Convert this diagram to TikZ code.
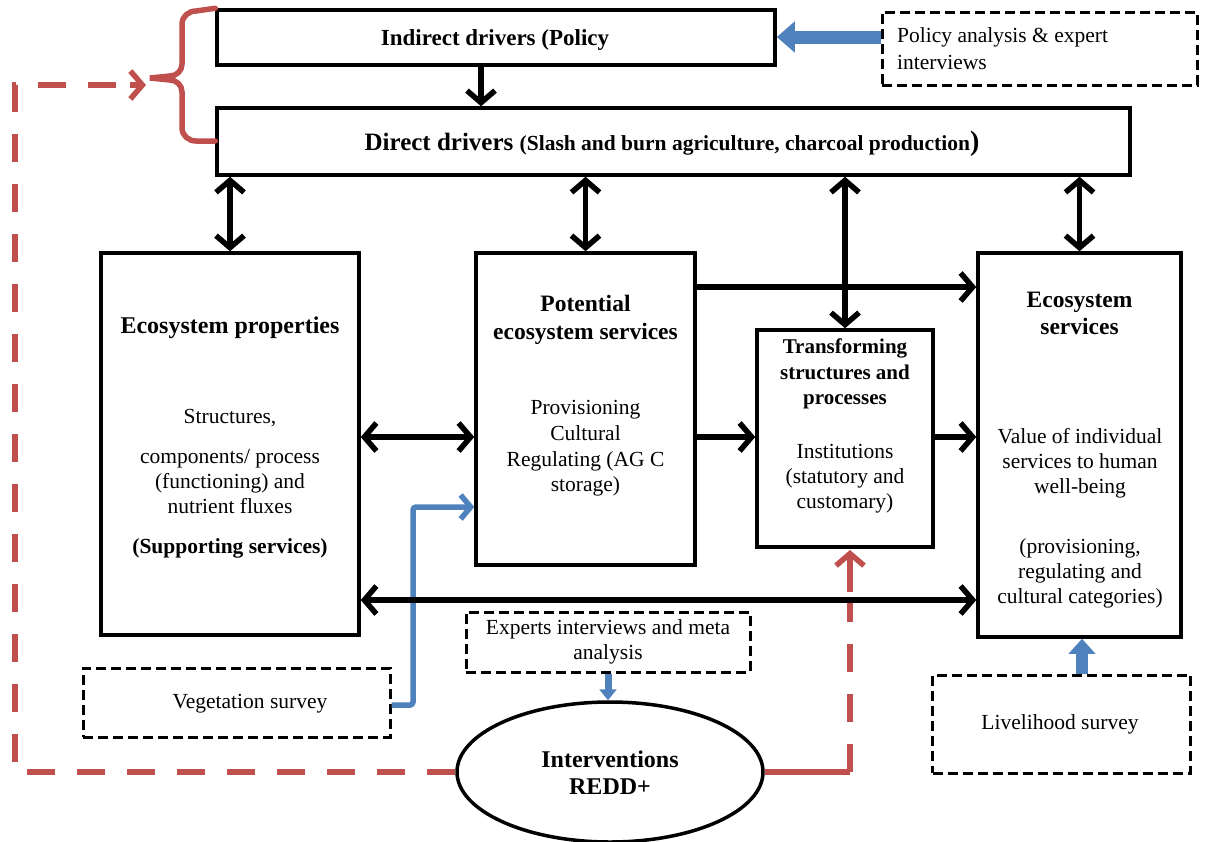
\documentclass[tikz,border=0pt]{standalone}
\usepackage{fontspec}
\setmainfont{Liberation Serif}
\usetikzlibrary{arrows.meta,shapes.geometric,calc}
\definecolor{redd}{HTML}{C0504D}
\definecolor{blu}{HTML}{4F81BD}
\begin{document}
\begin{tikzpicture}[x=1pt,y=-1pt,
 box/.style={draw, line width=3.5pt, inner sep=0pt, rectangle},
 dbox/.style={draw, line width=3pt, dash pattern=on 10pt off 5pt, inner sep=0pt, rectangle},
 txt/.style={font=\fontsize{21.5}{25}\selectfont, align=center, inner sep=0pt},
 ttl/.style={font=\fontsize{23.5}{27.5}\selectfont\bfseries, align=center, inner sep=0pt},
 barb/.tip={Straight Barb[length=12pt,width=28pt]},
 blk/.style={line width=5.5pt, -barb},
 blk2/.style={line width=5.5pt, barb-barb},
 fat/.style={blu, line width=13pt, -{Triangle[length=18pt,width=30pt]}},
 redline/.style={redd, line width=5.5pt},
 reddash/.style={redd, line width=5.5pt, dash pattern=on 28pt off 22pt},
 bluline/.style={blu, line width=5.5pt, -{Straight Barb[length=10pt,width=24pt]}}
]
\useasboundingbox (0,0) rectangle (1207,841);

% boxes
\node[box, minimum width=558pt, minimum height=55pt] (ind) at (496,37.5) {};
\node[box, minimum width=913pt, minimum height=67pt] (dir) at (673.5,141.5) {};
\node[box, minimum width=258pt, minimum height=382pt] (ep) at (230,444) {};
\node[box, minimum width=219pt, minimum height=312pt] (pes) at (585.5,409) {};
\node[box, minimum width=176pt, minimum height=217pt] (tsp) at (845,438.5) {};
\node[box, minimum width=203pt, minimum height=384pt] (es) at (1079.5,445) {};
\node[dbox, minimum width=315pt, minimum height=73pt] (pol) at (1039.5,48.5) {};
\node[dbox, minimum width=284pt, minimum height=60pt] (exp) at (608,642) {};
\node[dbox, minimum width=307pt, minimum height=69pt] (veg) at (236.5,702.5) {};
\node[dbox, minimum width=258pt, minimum height=98pt] (liv) at (1061.5,724) {};
\node[draw, ellipse, line width=3.5pt, minimum width=306pt, minimum height=140pt, inner sep=0pt] (ell) at (610,772) {};

% texts
\node[txt, font=\fontsize{23}{25}\selectfont\bfseries] (indt) at (495,40) {Indirect drivers (Policy};
\node[txt] (dirt) at (672,144) {\bfseries\fontsize{25}{25}\selectfont Direct drivers \fontsize{21.5}{25}\selectfont(Slash and burn agriculture, charcoal production\fontsize{28}{25}\selectfont)};
\node[txt, anchor=west, align=left, font=\fontsize{21.5}{26.5}\selectfont] (polt) at (897,48.5) {Policy analysis \& expert\\interviews};
\node[ttl, font=\fontsize{24}{27}\selectfont\bfseries] (ept) at (230,328) {Ecosystem properties};
\node[txt] (ep1) at (230,418) {Structures,};
\node[txt] (ep2) at (230,482) {components/ process\\(functioning) and\\nutrient fluxes};
\node[txt, font=\fontsize{21.5}{25}\selectfont\bfseries] (ep3) at (230,548) {(Supporting services)};
\node[ttl] (pest) at (585.5,320) {Potential\\ecosystem services};
\node[txt, font=\fontsize{21.5}{25.6}\selectfont] (pesb) at (585.5,448.5) {Provisioning\\Cultural\\Regulating (AG C\\storage)};
\node[txt, font=\fontsize{21}{25.5}\selectfont\bfseries] (tspt) at (845,374) {Transforming\\structures and\\processes};
\node[txt] (tspb) at (845,479) {Institutions\\(statutory and\\customary)};
\node[ttl] (est) at (1079.5,313.5) {Ecosystem\\services};
\node[txt] (esb1) at (1080,463) {Value of individual\\services to human\\well-being};
\node[txt] (esb2) at (1080,573) {(provisioning,\\regulating and\\cultural categories)};
\node[txt] (expt) at (608,642) {Experts interviews and meta\\analysis};
\node[txt] (vegt) at (250,704) {Vegetation survey};
\node[txt] (livt) at (1060,724) {Livelihood survey};
\node[ttl, font=\fontsize{24}{27}\selectfont\bfseries] (ellt) at (610,773) {Interventions\\REDD+};

% red feedback lines
\coordinate (bl) at (15,772);
\coordinate (tl) at (15,85);
\coordinate (tip) at (146,85);
\draw[reddash] (ell.west) -- (bl) -- (tl) -- ($(tip)+(-12,0)$);
\draw[redd, line width=5.5pt, -{Straight Barb[length=12pt,width=28pt]}] ($(tip)+(-16,0)$) -- (tip);
\draw[redline, line cap=round] (ind.north west) -- (196,11) to[out=180,in=90] (182,24) -- (182,64)
  to[out=-90,in=0] (170,76) -- (150,78) -- (170,80) to[out=0,in=90] (182,92) -- (182,128)
  to[out=-90,in=180] (196,141) -- (dir.west |- 0,141);
\coordinate (rb) at (850,772);
\draw[redline] (ell.east) -- (rb);
\draw[reddash] (rb) -- (850,598);
\draw[redd, line width=5.5pt, -{Straight Barb[length=12pt,width=28pt]}] (850,592) -- (850,550);

% blue arrows
\draw[fat] (pol.west |- 0,37) -- (ind.east |- 0,37);
\draw[blu, line width=7pt, -{Triangle[length=11pt,width=17pt]}] (exp.south) -- (ell.north -| exp.south);
\draw[blu, line width=12pt, -{Triangle[length=15pt,width=26pt]}] (liv.north -| 1082,0) -- (es.south -| 1082,0);
\coordinate (b1) at (413,705);
\coordinate (b2) at (413,507);
\draw[bluline, rounded corners=3pt] (veg.east |- b1) -- (b1) -- (b2) -- (pes.west |- b2);

% black arrows
\draw[blk] (ind.south -| 481,0) -- (dir.north -| 481,0);
\draw[blk2] (dir.south -| ep.north) -- (ep.north);
\draw[blk2] (dir.south -| pes.north) -- (pes.north);
\draw[blk2] (dir.south -| tsp.north) -- (tsp.north);
\draw[blk2] (dir.south -| es.north) -- (es.north);
\draw[blk] (pes.east |- 0,287) -- (es.west |- 0,287);
\draw[blk2] (ep.east |- 0,437) -- (pes.west |- 0,437);
\draw[blk] (pes.east |- 0,437) -- (tsp.west |- 0,437);
\draw[blk] (tsp.east |- 0,437) -- (es.west |- 0,437);
\draw[blk2] (ep.east |- 0,600) -- (es.west |- 0,600);
\end{tikzpicture}
\end{document}
